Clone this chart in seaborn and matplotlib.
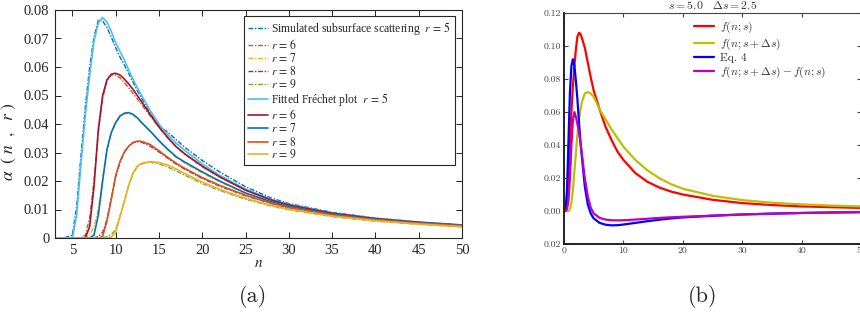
import numpy as np
import pandas as pd
import matplotlib
matplotlib.use("Agg")
import matplotlib.pyplot as plt
from matplotlib.font_manager import FontProperties
import seaborn as sns

sns.set_style("ticks")
plt.rcParams["font.family"] = ["Liberation Serif", "DejaVu Serif"]
plt.rcParams["mathtext.fontset"] = "stix"
plt.rcParams["axes.unicode_minus"] = False

# ---------------- panel (a): alpha(n, r) ----------------
n_a = [3, 4, 5, 5.5, 6, 6.5, 7, 7.5, 8, 8.5, 9, 9.5, 10, 10.5, 11, 11.5, 12, 12.5,
       13, 14, 15, 16, 17, 18, 20, 22, 25, 28, 30, 35, 40, 45, 50]

# simulated subsurface scattering (dash-dot)
sim_r5 = [0, 0, 0.001, 0.011, 0.029, 0.046, 0.060, 0.0705, 0.0765, 0.0762, 0.0738, 0.0705,
          0.0668, 0.0635, 0.0608, 0.0578, 0.0547, 0.0517, 0.049, 0.0437, 0.0393, 0.0372,
          0.0345, 0.0318, 0.0272, 0.0232, 0.0180, 0.0140, 0.0121, 0.0090, 0.0070, 0.0056, 0.0046]
sim_r6 = [0, 0, 0, 0, 0, 0.001, 0.007, 0.020, 0.037, 0.049, 0.0552, 0.0572, 0.0572, 0.0562,
          0.0545, 0.0528, 0.0508, 0.0488, 0.0468, 0.0428, 0.0388, 0.0352, 0.0320, 0.0294,
          0.0250, 0.0214, 0.0168, 0.0132, 0.0115, 0.0086, 0.0067, 0.0054, 0.0044]
sim_r7 = [0, 0, 0, 0, 0, 0, 0.001, 0.004, 0.010, 0.021, 0.031, 0.037, 0.040, 0.0425, 0.0435,
          0.0437, 0.0432, 0.0420, 0.0403, 0.0373, 0.0340, 0.0310, 0.0283, 0.0262, 0.0228,
          0.0197, 0.0156, 0.0126, 0.0110, 0.0083, 0.0065, 0.0053, 0.0043]
sim_r8 = [0, 0, 0, 0, 0, 0, 0, 0, 0.0005, 0.002, 0.0065, 0.014, 0.0215, 0.0265, 0.030, 0.0322,
          0.0335, 0.0338, 0.0336, 0.0322, 0.0302, 0.0280, 0.0259, 0.0241, 0.0209, 0.0182,
          0.0148, 0.0121, 0.0106, 0.0080, 0.0063, 0.0051, 0.0042]
sim_r9 = [0, 0, 0, 0, 0, 0, 0, 0, 0, 0, 0.0005, 0.0012, 0.003, 0.0075, 0.0128, 0.0183, 0.0225,
          0.0250, 0.0260, 0.0266, 0.0260, 0.0249, 0.0235, 0.0220, 0.0191, 0.0167, 0.0136,
          0.0112, 0.0099, 0.0075, 0.0059, 0.0048, 0.0039]

# fitted Frechet curves (solid)
fit_r5 = [0, 0, 0, 0.008, 0.026, 0.043, 0.057, 0.069, 0.0755, 0.0773, 0.0758, 0.0725, 0.0685,
          0.0655, 0.0625, 0.0590, 0.0558, 0.0527, 0.0500, 0.0447, 0.0400, 0.0363, 0.0332,
          0.0307, 0.0260, 0.0220, 0.0172, 0.0135, 0.0118, 0.0088, 0.0069, 0.0056, 0.0046]
fit_r6 = [0, 0, 0, 0, 0, 0, 0.004, 0.018, 0.038, 0.050, 0.0555, 0.0575, 0.0578, 0.0572,
          0.0558, 0.0541, 0.0522, 0.0500, 0.0478, 0.0433, 0.0390, 0.0353, 0.0320, 0.0295,
          0.0252, 0.0215, 0.0168, 0.0133, 0.0116, 0.0087, 0.0068, 0.0055, 0.0045]
fit_r7 = [0, 0, 0, 0, 0, 0, 0, 0.001, 0.008, 0.020, 0.031, 0.037, 0.0405, 0.0428, 0.0438,
          0.0440, 0.0434, 0.0422, 0.0405, 0.0375, 0.0342, 0.0312, 0.0285, 0.0266, 0.0232,
          0.0200, 0.0158, 0.0127, 0.0111, 0.0084, 0.0066, 0.0054, 0.0044]
fit_r8 = [0, 0, 0, 0, 0, 0, 0, 0, 0, 0.0005, 0.006, 0.0135, 0.0218, 0.0268, 0.0302, 0.0322,
          0.0334, 0.0340, 0.0339, 0.0328, 0.0306, 0.0283, 0.0262, 0.0244, 0.0212, 0.0185,
          0.0150, 0.0122, 0.0107, 0.0081, 0.0064, 0.0052, 0.0043]
fit_r9 = [0, 0, 0, 0, 0, 0, 0, 0, 0, 0, 0, 0.0003, 0.002, 0.0075, 0.0128, 0.0185, 0.0228,
          0.0252, 0.0262, 0.0268, 0.0265, 0.0256, 0.0242, 0.0226, 0.0196, 0.0171, 0.0139,
          0.0114, 0.0101, 0.0077, 0.0061, 0.0049, 0.0040]

sim_series = [sim_r5, sim_r6, sim_r7, sim_r8, sim_r9]
fit_series = [fit_r5, fit_r6, fit_r7, fit_r8, fit_r9]
sim_colors = ["#0072BD", "#D95319", "#EDB120", "#7E2F8E", "#77AC30"]
fit_colors = ["#4DBEEE", "#A2142F", "#0072BD", "#D95319", "#EDB120"]
r_values = [5, 6, 7, 8, 9]

# ---------------- panel (b): s = 5.0, ds = 2.5 ----------------
n_b = [0, 0.25, 0.5, 0.75, 1, 1.25, 1.5, 1.75, 2, 2.25, 2.5, 2.75, 3, 3.5, 4, 4.5, 5, 6, 7,
       8, 9, 10, 12, 14, 16, 18, 20, 25, 30, 35, 40, 45, 50]
f_s = [0, 0, 0.003, 0.020, 0.040, 0.060, 0.076, 0.088, 0.098, 0.1055, 0.108, 0.1075, 0.105,
       0.099, 0.090, 0.081, 0.073, 0.0615, 0.051, 0.043, 0.036, 0.031, 0.023, 0.0178, 0.0143,
       0.0118, 0.0100, 0.0068, 0.0048, 0.0036, 0.0028, 0.0023, 0.0019]
f_sds = [0, 0, 0, 0, 0.001, 0.005, 0.013, 0.024, 0.035, 0.046, 0.055, 0.061, 0.066, 0.0712,
         0.0721, 0.0712, 0.0693, 0.0615, 0.0555, 0.0495, 0.0442, 0.039, 0.031, 0.0248,
         0.0200, 0.0163, 0.0135, 0.0092, 0.0066, 0.0050, 0.0040, 0.0033, 0.0028]
eq4 = [0, 0.001, 0.012, 0.042, 0.072, 0.088, 0.092, 0.088, 0.079, 0.068, 0.055, 0.043,
       0.033, 0.015, 0.004, -0.0015, -0.0045, -0.0072, -0.0083, -0.0087, -0.0086, -0.0082,
       -0.0072, -0.0062, -0.0053, -0.0045, -0.0039, -0.0029, -0.0021, -0.0016, -0.0012,
       -0.0009, -0.0007]
f_diff = [0, 0, 0.001, 0.006, 0.020, 0.040, 0.055, 0.060, 0.057, 0.053, 0.048, 0.042,
          0.035, 0.020, 0.009, 0.002, -0.0015, -0.0042, -0.0052, -0.0056, -0.0057, -0.0056,
          -0.0052, -0.0047, -0.0042, -0.0038, -0.0035, -0.0028, -0.0021, -0.0016, -0.0012,
          -0.0009, -0.0007]
b_labels = [r"$f(n;s)$", r"$f(n;s+\Delta s)$", "Eq. 4", r"$f(n;s+\Delta s)-f(n;s)$"]
b_colors = ["r", "y", "b", "m"]
b_yticks = [-0.02, 0.0, 0.02, 0.04, 0.06, 0.08, 0.10, 0.12]
b_yticklabels = ["0.02", "0.00", "0.02", "0.04", "0.06", "0.08", "0.10", "0.12"]
b_xticks = [0, 10, 20, 30, 40, 50]

fig = plt.figure(figsize=(8.6, 3.2), dpi=100)
ax1 = fig.add_axes([55 / 860, 1 - 238 / 320, 407 / 860, 228 / 320])
ax2 = fig.add_axes([564 / 860, 1 - 244 / 320, 297 / 860, 231 / 320])

dashdot = (0, (3.5, 1.2, 1.0, 1.2))
for ys, c, r in zip(sim_series, sim_colors, r_values):
    lab = ("Simulated subsurface scattering  " if r == 5 else "") + rf"$r\,=\,{r}$"
    sns.lineplot(x=n_a, y=ys, ax=ax1, color=c, linewidth=1.0, linestyle=dashdot, label=lab)
for ys, c, r in zip(fit_series, fit_colors, r_values):
    lab = ("Fitted Fréchet plot  " if r == 5 else "") + rf"$r\,=\,{r}$"
    sns.lineplot(x=n_a, y=ys, ax=ax1, color=c, linewidth=1.2, label=lab)

ax1.set_xlim(3, 50)
ax1.set_ylim(0, 0.08)
ax1.set_xticks(range(5, 51, 5))
ax1.set_yticks([0, 0.01, 0.02, 0.03, 0.04, 0.05, 0.06, 0.07, 0.08])
ax1.set_yticklabels(["0", "0.01", "0.02", "0.03", "0.04", "0.05", "0.06", "0.07", "0.08"])
ax1.tick_params(direction="in", top=True, right=True, length=4, width=0.7,
                labelsize=10.5, colors="#262626", pad=4)
for sp in ax1.spines.values():
    sp.set_color("#262626")
    sp.set_linewidth(0.8)
ax1.set_xlabel(r"$n$", fontsize=11, labelpad=0)
ax1.set_ylabel(r"$\alpha\ \ (\ n\ \ ,\ \ r\ )$", fontsize=12.5)
ax1.yaxis.set_label_coords(-0.092, 0.42)
leg_prop = FontProperties(family="Liberation Serif", size=8.4, math_fontfamily="stix")
leg1 = ax1.legend(loc="upper right", bbox_to_anchor=(0.982, 0.972), prop=leg_prop,
                  frameon=True, fancybox=False, edgecolor="#262626", framealpha=1,
                  labelspacing=0.02, handlelength=1.7, handletextpad=0.25,
                  borderpad=0.35, borderaxespad=0)
leg1.get_frame().set_linewidth(0.8)

for ys, c, lab in zip([f_s, f_sds, eq4, f_diff], b_colors, b_labels):
    sns.lineplot(x=n_b, y=ys, ax=ax2, color=c, linewidth=1.6, label=lab)

ax2.set_xlim(0, 50)
ax2.set_ylim(-0.02, 0.12)
ax2.set_xticks(b_xticks)
ax2.set_xticklabels([str(t) for t in b_xticks], fontfamily="cmr10", fontsize=7)
ax2.set_yticks(b_yticks)
ax2.set_yticklabels(b_yticklabels, fontfamily="cmr10", fontsize=7)
ax2.tick_params(direction="in", top=True, right=True, length=3, width=0.8,
                colors="#444444", pad=2)
ax2.spines["left"].set_linewidth(1.4)
ax2.spines["bottom"].set_linewidth(1.4)
ax2.spines["left"].set_color("#222222")
ax2.spines["bottom"].set_color("#222222")
ax2.spines["top"].set_color("#444444")
ax2.spines["right"].set_color("#444444")
ax2.set_title(r"$s = 5.0 \quad \Delta s = 2.5$", fontsize=8.5, pad=3, math_fontfamily="cm",
              color="#333333")
leg_prop2 = FontProperties(family="cmr10", size=8.3, math_fontfamily="cm")
leg2 = ax2.legend(loc="upper left", bbox_to_anchor=(0.415, 1.0), prop=leg_prop2,
                  frameon=False, labelspacing=0.12, handlelength=1.75, handletextpad=0.5,
                  borderaxespad=0.2)
for t in leg2.get_texts():
    t.set_color("#333333")

fig.text(253 / 860, 1 - 297 / 320, "(a)", fontfamily="cmr10", fontsize=16,
         ha="center", va="center")
fig.text(703 / 860, 1 - 297 / 320, "(b)", fontfamily="cmr10", fontsize=16,
         ha="center", va="center")

fig.savefig("out.png", dpi=100)
